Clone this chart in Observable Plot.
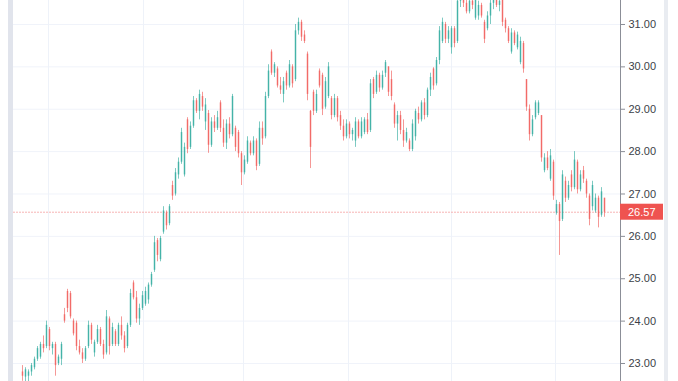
<!DOCTYPE html>
<html>
<head>
<meta charset="utf-8">
<script src="https://cdn.jsdelivr.net/npm/d3@7"></script>
<script src="https://cdn.jsdelivr.net/npm/@observablehq/plot@0.6"></script>
<style>
  html, body { margin: 0; padding: 0; background: #ffffff; }
  #wrap { position: relative; width: 678px; height: 381px; overflow: hidden; }
  .edge { position: absolute; top: 0; height: 381px; background: #e1e4ec; }
  svg { display: block; }
</style>
</head>
<body>
<div id="wrap">
  <div class="edge" style="left:8px;width:5px;"></div>
  <div class="edge" style="left:664px;width:4px;background:#e9ecf1;"></div>
  <div id="chart"></div>
</div>
<script>
// Daily candles (price)
const open = [22.80,22.68,22.70,22.80,22.90,23.10,23.15,23.45,23.40,23.80,
  23.35,23.45,23.00,23.10,24.15,24.70,24.65,24.00,23.95,23.40,
  23.25,23.10,23.40,23.90,23.25,23.50,23.80,23.45,23.25,24.05,
  23.45,23.75,23.45,23.90,23.65,23.40,23.90,24.90,24.55,24.05,
  24.30,24.40,24.50,24.85,25.20,25.90,25.45,26.10,26.55,26.30,
  27.20,27.00,27.45,27.75,27.45,28.75,28.10,28.60,29.20,28.95,
  29.30,28.70,28.90,28.15,28.70,28.55,29.15,28.55,28.20,28.65,
  28.40,28.55,28.45,27.95,27.50,27.75,28.20,27.95,28.25,27.70,
  28.55,28.35,29.30,30.35,29.85,29.95,29.55,29.35,29.85,29.55,
  30.00,29.70,30.85,31.05,30.75,30.30,28.95,29.40,28.95,29.90,
  29.80,29.05,29.30,29.25,28.85,29.25,28.85,28.60,28.35,28.65,
  28.40,28.25,28.70,28.35,28.45,28.75,28.50,29.70,29.40,29.80,
  29.50,29.85,30.00,29.70,29.10,28.65,28.85,28.50,28.25,28.25,
  28.05,28.35,28.90,28.75,29.15,28.85,29.45,29.95,29.60,30.15,
  30.60,31.00,30.65,30.45,30.90,30.60,31.55,31.65,31.50,31.30,
  31.55,31.15,31.20,31.45,31.05,30.90,31.20,31.50,31.60,31.45,
  31.60,31.10,30.90,30.35,30.80,30.45,30.10,30.55,29.70,29.00,
  28.40,28.80,28.90,28.85,27.55,27.85,27.35,27.75,26.55,26.75,
  26.40,27.30,26.90,27.45,27.15,27.75,27.10,27.55,27.30,26.95,
  26.70,26.60,26.90,26.50,26.90];
const high = [22.95,22.90,22.85,23.00,23.15,23.40,23.50,23.65,24.00,23.85,
  23.50,23.50,23.20,23.50,24.30,24.75,24.70,24.05,24.00,23.55,
  23.35,23.40,24.00,23.95,23.55,23.90,23.85,23.55,24.25,24.10,
  23.95,23.80,23.95,24.10,23.75,23.95,24.75,24.95,24.70,24.40,
  24.70,24.80,24.90,25.15,26.00,25.95,26.00,26.70,26.60,26.75,
  27.30,27.60,27.85,28.55,28.20,28.80,28.70,29.30,29.25,29.45,
  29.40,29.25,28.97,28.80,28.85,28.95,29.20,28.75,28.75,28.80,
  29.35,28.60,28.50,28.00,27.90,28.35,28.25,28.35,28.30,28.70,
  28.70,29.40,30.05,30.40,30.10,30.00,29.75,29.75,29.90,30.15,
  30.05,31.00,31.15,31.10,30.85,30.35,28.97,29.45,29.45,29.95,
  29.85,29.75,30.10,29.30,29.35,29.30,28.95,28.75,28.75,28.70,
  28.55,28.80,28.75,28.80,28.80,28.90,29.70,29.75,29.90,29.85,
  29.90,30.15,30.00,29.90,29.15,28.95,28.95,28.75,28.55,28.30,
  28.75,29.00,29.05,29.20,29.25,29.50,29.85,29.98,30.22,30.95,
  31.15,31.05,30.95,30.95,30.95,31.65,31.75,31.80,31.60,31.62,
  31.70,31.65,31.55,31.50,31.10,31.30,31.60,31.70,31.75,31.65,
  31.65,31.15,30.95,30.90,30.85,30.82,30.70,30.60,29.70,29.10,
  28.85,29.20,29.20,28.85,27.95,28.00,28.05,27.80,26.85,26.80,
  27.55,27.40,27.30,27.55,28.00,27.80,27.55,27.65,27.35,27.00,
  27.30,27.00,26.95,27.15,26.90];
const low = [22.58,22.55,22.55,22.70,22.85,23.05,23.10,23.25,23.35,23.30,
  23.20,22.70,22.95,22.95,23.95,24.20,24.05,23.65,23.30,23.20,
  23.00,23.05,23.35,23.45,23.15,23.45,23.40,23.10,23.20,23.20,
  23.40,23.40,23.40,23.55,23.25,23.35,23.85,24.50,23.95,23.90,
  24.25,24.35,24.40,24.80,25.15,25.40,25.40,26.05,26.15,26.25,
  26.85,26.95,27.35,27.70,27.40,27.95,28.05,28.55,28.90,28.75,
  28.95,28.50,27.96,28.10,28.45,28.50,28.45,28.10,28.05,28.30,
  28.35,28.00,27.85,27.20,27.45,27.70,27.90,27.90,27.55,27.65,
  28.15,28.30,29.25,29.80,29.75,29.50,29.35,29.15,29.45,29.50,
  29.50,29.65,30.75,30.60,30.55,29.20,27.60,28.85,28.90,29.50,
  28.85,29.00,29.25,28.75,28.80,28.70,28.50,28.25,28.30,28.30,
  28.25,28.10,28.30,28.30,28.40,28.40,28.45,29.25,29.35,29.40,
  29.45,29.75,29.30,29.20,28.55,28.25,28.40,28.10,28.20,28.00,
  28.00,28.25,28.65,28.70,28.75,28.80,29.30,29.45,29.55,30.05,
  30.55,30.55,30.55,30.30,30.45,30.55,31.40,31.40,31.25,31.25,
  31.35,31.10,31.10,31.15,30.55,30.85,31.00,31.35,31.40,31.30,
  30.95,30.80,30.55,30.30,30.50,30.40,30.05,29.85,28.95,28.25,
  28.35,28.75,28.85,27.75,27.50,27.55,27.30,26.85,26.50,25.55,
  26.35,26.80,26.85,27.05,27.10,27.00,27.05,27.25,26.90,26.25,
  26.60,26.55,26.20,26.45,26.45];
const close = [22.70,22.85,22.80,22.95,23.10,23.35,23.45,23.35,23.90,23.40,
  23.45,22.95,23.15,23.45,24.00,24.30,24.10,23.70,23.40,23.25,
  23.10,23.35,23.90,23.55,23.50,23.80,23.45,23.20,24.10,23.40,
  23.85,23.45,23.90,23.65,23.35,23.90,24.65,24.55,24.05,24.30,
  24.60,24.70,24.85,25.10,25.85,25.55,25.95,26.60,26.25,26.70,
  26.95,27.50,27.75,28.45,28.10,28.05,28.60,29.20,28.95,29.35,
  29.05,29.10,28.15,28.70,28.55,28.80,28.55,28.20,28.65,28.40,
  29.30,28.10,27.95,27.50,27.80,28.25,27.95,28.25,27.65,28.55,
  28.30,29.30,29.90,29.85,30.05,29.55,29.45,29.65,29.55,30.05,
  29.60,30.85,31.05,30.70,30.60,29.35,28.10,28.95,29.35,29.55,
  29.00,29.65,30.00,28.85,29.25,28.80,28.60,28.35,28.65,28.40,
  28.50,28.70,28.35,28.70,28.75,28.45,29.60,29.35,29.80,29.50,
  29.80,30.10,29.40,29.30,28.65,28.85,28.50,28.25,28.45,28.05,
  28.65,28.95,28.75,29.15,28.85,29.45,29.75,29.55,30.15,30.85,
  31.05,30.65,30.85,30.90,30.55,31.55,31.65,31.50,31.30,31.55,
  31.45,31.60,31.45,31.20,30.65,31.20,31.50,31.60,31.45,31.55,
  31.05,30.90,30.60,30.80,30.55,30.75,30.60,29.95,29.05,28.40,
  28.75,29.15,29.15,27.85,27.85,27.60,27.90,26.95,26.75,26.35,
  27.45,26.90,27.20,27.15,27.80,27.10,27.45,27.35,27.00,26.40,
  27.20,26.90,26.45,27.05,26.57];
const priceTicks = [23, 24, 25, 26, 27, 28, 29, 30, 31];
const monthGrid = [8.67, 40.33, 73.67, 108.67, 143, 177.67]; // candle index where a new month starts
const lastPrice = 26.57;

const up = "#26a69a", down = "#ef5350";
const data = open.map((o, i) => ({i, o, h: high[i], l: low[i], c: close[i]}));
const col = d => d.c >= d.o ? up : down;

const chart = Plot.plot({
  width: 678, height: 381,
  marginLeft: 13, marginRight: 58, marginTop: 0, marginBottom: 0,
  style: {fontFamily: "'Liberation Sans', Arial, sans-serif", fontSize: "11px", background: "transparent"},
  x: {domain: [-3, 199.33], axis: null},
  y: {domain: [22.575, 31.566], axis: null},
  marks: [
    Plot.ruleY(priceTicks, {stroke: "#f0f3fa", strokeWidth: 1}),
    Plot.ruleX(monthGrid, {stroke: "#eef2f9", strokeWidth: 1}),
    Plot.ruleY([lastPrice], {stroke: "#f5a3a1", strokeOpacity: 0.8, strokeDasharray: "2,1"}),
    Plot.ruleX(data, {x: "i", y1: "l", y2: "h", stroke: col, strokeWidth: 1, strokeOpacity: 0.6, clip: true}),
    Plot.ruleX(data, {x: "i", y1: "o", y2: "c", stroke: col, strokeWidth: 1.6, strokeOpacity: 0.65, clip: true}),
    Plot.ruleX([199.33], {stroke: "#8b8e97", strokeWidth: 1}),
    Plot.axisY(priceTicks, {anchor: "right", tickFormat: d3.format(".2f"), tickSize: 4, tickPadding: 4, stroke: "#8b8e97", color: "#3c3f48", fontSize: 11})
  ]
});
document.getElementById("chart").appendChild(chart);

// price label box on the axis, placed with the plot's y scale
const ys = chart.scale("y").apply(lastPrice);
const svg = d3.select(chart);
const g = svg.append("g");
g.append("rect").attr("x", 620).attr("y", ys - 8).attr("width", 43).attr("height", 16).attr("fill", down);
g.append("text").attr("x", 628).attr("y", ys).attr("dy", "0.35em").attr("text-anchor", "start")
  .attr("fill", "#ffffff").attr("font-size", 11).attr("font-family", "'Liberation Sans', Arial, sans-serif")
  .text(d3.format(".2f")(lastPrice));
</script>
</body>
</html>
